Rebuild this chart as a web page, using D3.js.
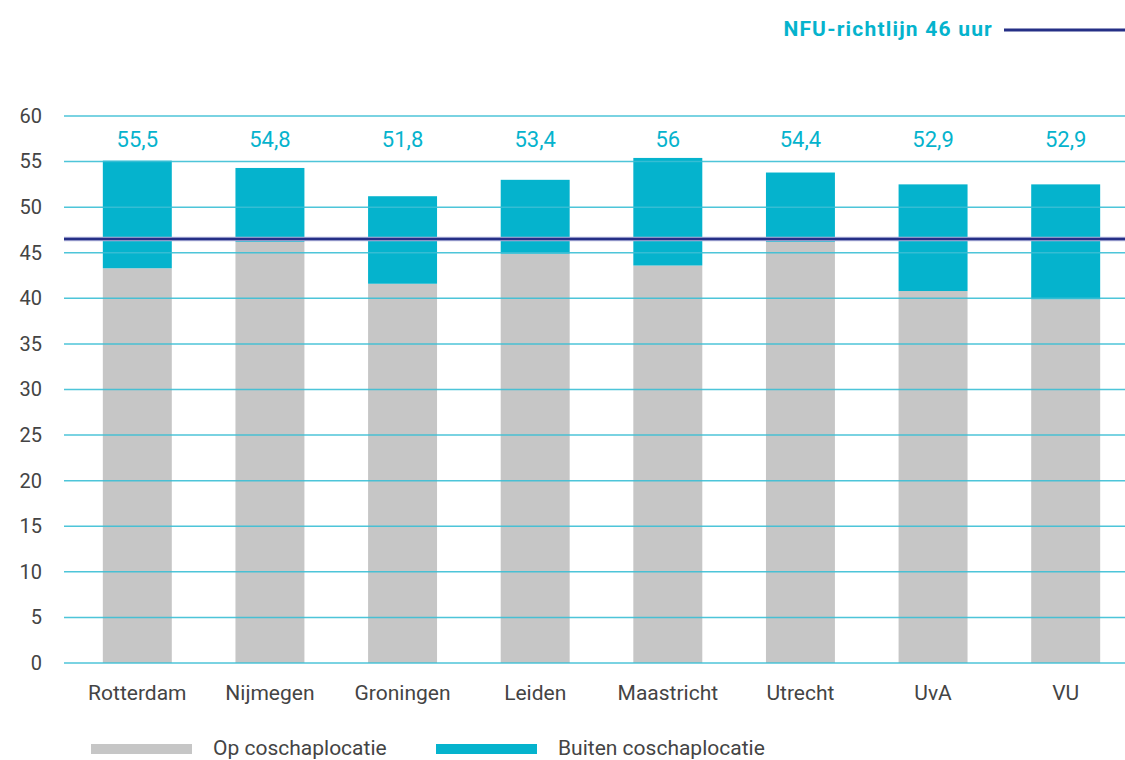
<!DOCTYPE html>
<html>
<head>
<meta charset="utf-8">
<script src="https://cdn.jsdelivr.net/npm/d3@7"></script>
<style>
  body { margin: 0; background: #fff; }
  text { font-family: Roboto, "Liberation Sans", sans-serif; }
</style>
</head>
<body>
<div id="chart"></div>
<script>
/* DATA */
const categories = ["Rotterdam", "Nijmegen", "Groningen", "Leiden", "Maastricht", "Utrecht", "UvA", "VU"];
const opValues = [43.3, 46.2, 41.6, 44.9, 43.6, 46.2, 40.8, 39.9];
const buitenValues = [11.8, 8.1, 9.6, 8.1, 11.8, 7.6, 11.7, 12.6];
const totalLabels = ["55,5", "54,8", "51,8", "53,4", "56", "54,4", "52,9", "52,9"];
const yTicks = [0, 5, 10, 15, 20, 25, 30, 35, 40, 45, 50, 55, 60];
const nfuValue = 46.5;
const nfuLabel = "NFU-richtlijn 46 uur";
const seriesNames = ["Op coschaplocatie", "Buiten coschaplocatie"];

/* CONSTANTS */
const width = 1125,
  height = 760,
  margin = { top: 116, bottom: 97, left: 64, right: 0 },
  grey = "#c6c6c6",
  cyan = "#05b3cd",
  navy = "#252f86",
  gridColor = "#3bbfd5",
  textColor = "#444";

const svg = d3.select("#chart")
  .append("svg")
  .attr("width", width)
  .attr("height", height);

// SCALES
const xScale = d3.scaleBand()
  .domain(categories)
  .range([71, 1132])
  .paddingInner(0.48)
  .paddingOuter(0.24);

const yScale = d3.scaleLinear()
  .domain([0, 60])
  .range([height - margin.bottom, margin.top]);

const data = categories.map((c, i) => ({ name: c, op: opValues[i], buiten: buitenValues[i], label: totalLabels[i] }));
const stacked = d3.stack().keys(["op", "buiten"])(data);
const colors = [grey, cyan];

// bars
svg.append("g")
  .selectAll("g")
  .data(stacked)
  .join("g")
  .attr("fill", (d, i) => colors[i])
  .selectAll("rect")
  .data(d => d)
  .join("rect")
  .attr("x", d => xScale(d.data.name))
  .attr("width", xScale.bandwidth())
  .attr("y", d => yScale(d[1]))
  .attr("height", d => yScale(d[0]) - yScale(d[1]));

// gridlines (drawn over bars like the original)
svg.append("g")
  .selectAll("line")
  .data(yTicks)
  .join("line")
  .attr("x1", margin.left)
  .attr("x2", width)
  .attr("y1", d => yScale(d))
  .attr("y2", d => yScale(d))
  .attr("stroke", gridColor)
  .attr("stroke-width", 1.5)
  .attr("opacity", 0.9);

// y axis labels
const yAxis = d3.axisLeft(yScale).tickValues(yTicks).tickSize(0).tickPadding(22);
svg.append("g")
  .attr("transform", `translate(${margin.left},0)`)
  .call(yAxis)
  .call(g => g.select(".domain").remove())
  .selectAll("text")
  .attr("font-size", 20)
  .attr("fill", textColor)
  .attr("font-family", "Roboto, 'Liberation Sans', sans-serif");

// x axis labels
const xAxis = d3.axisBottom(xScale).tickSize(0).tickPadding(22);
svg.append("g")
  .attr("transform", `translate(0,${yScale(0)})`)
  .call(xAxis)
  .call(g => g.select(".domain").remove())
  .selectAll("text")
  .attr("font-size", 21)
  .attr("fill", textColor)
  .attr("font-family", "Roboto, 'Liberation Sans', sans-serif");

// total labels
svg.append("g")
  .selectAll("text")
  .data(data)
  .join("text")
  .attr("x", d => xScale(d.name) + xScale.bandwidth() / 2)
  .attr("y", yScale(60) + 31)
  .attr("text-anchor", "middle")
  .attr("font-size", 22)
  .attr("fill", cyan)
  .text(d => d.label);

// NFU line
svg.append("line")
  .attr("x1", margin.left)
  .attr("x2", width)
  .attr("y1", yScale(nfuValue))
  .attr("y2", yScale(nfuValue))
  .attr("stroke", "#b4b7dc")
  .attr("stroke-width", 4.5);
svg.append("line")
  .attr("x1", margin.left)
  .attr("x2", width)
  .attr("y1", yScale(nfuValue))
  .attr("y2", yScale(nfuValue))
  .attr("stroke", navy)
  .attr("stroke-width", 2.5);

// NFU legend top right
svg.append("text")
  .attr("x", 993)
  .attr("y", 36)
  .attr("text-anchor", "end")
  .attr("font-size", 21)
  .attr("font-weight", "bold")
  .attr("letter-spacing", 1.2)
  .attr("fill", cyan)
  .text(nfuLabel);
svg.append("line")
  .attr("x1", 1004)
  .attr("x2", 1125)
  .attr("y1", 30)
  .attr("y2", 30)
  .attr("stroke", navy)
  .attr("stroke-width", 3);

// legend bottom
const legendX = [91, 436];
const legend = svg.append("g")
  .selectAll("g")
  .data(seriesNames)
  .join("g")
  .attr("transform", (d, i) => `translate(${legendX[i]},748)`);
legend.append("rect")
  .attr("x", 0)
  .attr("y", -4)
  .attr("width", 101)
  .attr("height", 10)
  .attr("fill", (d, i) => colors[i]);
legend.append("text")
  .attr("x", 122)
  .attr("y", 7)
  .attr("font-size", 21)
  .attr("fill", textColor)
  .text(d => d);
</script>
</body>
</html>
